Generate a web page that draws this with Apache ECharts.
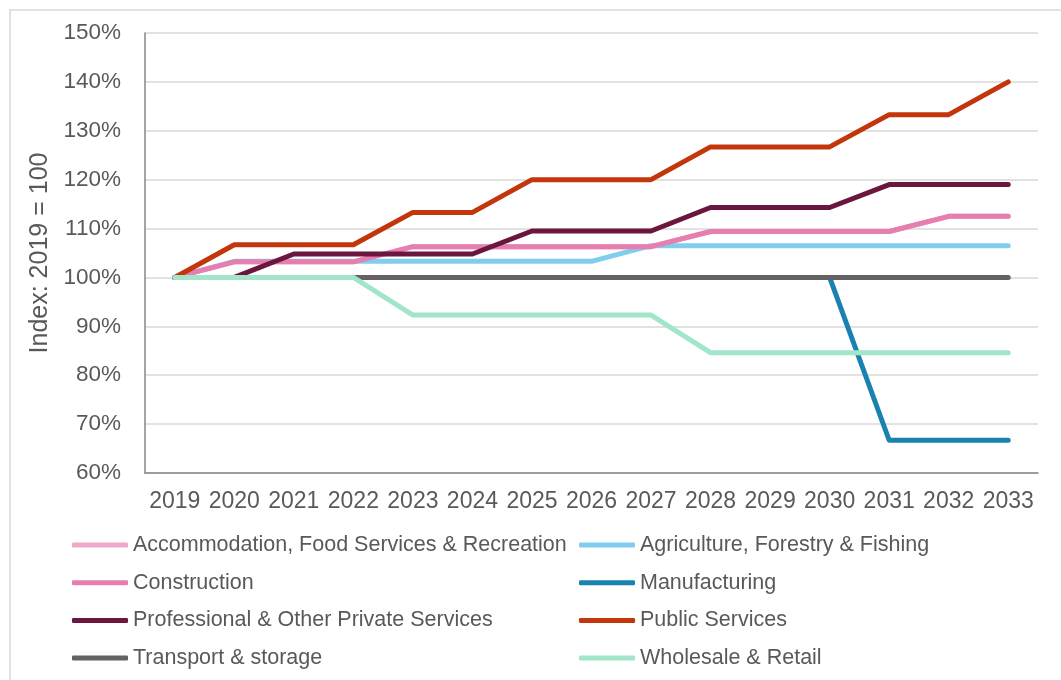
<!DOCTYPE html>
<html>
<head>
<meta charset="utf-8">
<title>Employment index by sector, 2019 = 100</title>
<script src="https://cdn.jsdelivr.net/npm/echarts@6/dist/echarts.min.js"></script>
<style>
  html, body { margin: 0; padding: 0; background: #ffffff; }
  #chart { width: 1061px; height: 680px; }
</style>
</head>
<body>
<div id="chart"></div>
<script>
// Years on the x axis
const years = ['2019', '2020', '2021', '2022', '2023', '2024', '2025', '2026',
               '2027', '2028', '2029', '2030', '2031', '2032', '2033'];

// Index values per sector (2019 = 100)
const accommodation = [100, 103.2, 103.2, 103.2, 106.3, 106.3, 106.3, 106.3, 106.3, 109.4, 109.4, 109.4, 109.4, 112.5, 112.5];
const agriculture   = [100, 103.3, 103.3, 103.3, 103.3, 103.3, 103.3, 103.3, 106.5, 106.5, 106.5, 106.5, 106.5, 106.5, 106.5];
const construction  = [100, 103.2, 103.2, 103.2, 106.3, 106.3, 106.3, 106.3, 106.3, 109.4, 109.4, 109.4, 109.4, 112.5, 112.5];
const manufacturing = [100, 100, 100, 100, 100, 100, 100, 100, 100, 100, 100, 100, 66.7, 66.7, 66.7];
const professional  = [100, 100, 104.8, 104.8, 104.8, 104.8, 109.5, 109.5, 109.5, 114.3, 114.3, 114.3, 119.0, 119.0, 119.0];
const publicServices = [100, 106.7, 106.7, 106.7, 113.3, 113.3, 120, 120, 120, 126.7, 126.7, 126.7, 133.3, 133.3, 140];
const transport     = [100, 100, 100, 100, 100, 100, 100, 100, 100, 100, 100, 100, 100, 100, 100];
const wholesale     = [100, 100, 100, 100, 92.3, 92.3, 92.3, 92.3, 92.3, 84.6, 84.6, 84.6, 84.6, 84.6, 84.6];

// Y axis tick range (percent)
const yMin = 60, yMax = 150, yStep = 10;

const sectors = [
  { name: 'Accommodation, Food Services & Recreation', data: accommodation, color: '#F0A9CA' },
  { name: 'Agriculture, Forestry & Fishing',           data: agriculture,   color: '#80CDEE' },
  { name: 'Construction',                              data: construction,  color: '#E67FAF' },
  { name: 'Manufacturing',                             data: manufacturing, color: '#1A82B0' },
  { name: 'Professional & Other Private Services',     data: professional,  color: '#6A163F' },
  { name: 'Public Services',                           data: publicServices, color: '#C3360C' },
  { name: 'Transport & storage',                       data: transport,     color: '#636363' },
  { name: 'Wholesale & Retail',                        data: wholesale,     color: '#A2E6CA' }
];

const font = 'Liberation Sans, Arial, sans-serif';
const textColor = '#595959';

const legendCommon = {
  orient: 'vertical',
  top: 534,
  padding: 0,
  itemWidth: 56,
  itemHeight: 5,
  itemGap: 15.7,
  icon: 'roundRect',
  selectedMode: false,
  textStyle: { fontFamily: font, fontSize: 21.5, color: textColor, lineHeight: 22 }
};

const chart = echarts.init(document.getElementById('chart'), null, { renderer: 'canvas' });

chart.setOption({
  animation: false,
  backgroundColor: '#ffffff',
  graphic: [{
    type: 'rect',
    shape: { x: 10, y: 10, width: 1070, height: 700 },
    style: { fill: 'none', stroke: '#D9D9D9', lineWidth: 1.5 },
    silent: true
  }],
  grid: { left: 145, right: 23, top: 33, bottom: 207, containLabel: false },
  legend: [
    Object.assign({}, legendCommon, {
      left: 72,
      data: [sectors[0].name, sectors[2].name, sectors[4].name, sectors[6].name]
    }),
    Object.assign({}, legendCommon, {
      left: 579,
      data: [sectors[1].name, sectors[3].name, sectors[5].name, sectors[7].name]
    })
  ],
  xAxis: {
    type: 'category',
    data: years,
    boundaryGap: true,
    axisLine: { show: true, lineStyle: { color: '#868686', width: 1.5 } },
    axisTick: { show: false },
    axisLabel: { fontFamily: font, fontSize: 23, color: textColor, margin: 17, interval: 0 },
    splitLine: { show: false }
  },
  yAxis: {
    type: 'value',
    min: yMin,
    max: yMax,
    interval: yStep,
    name: 'Index: 2019 = 100',
    nameLocation: 'middle',
    nameGap: 91,
    nameTextStyle: { fontFamily: font, fontSize: 25, color: textColor },
    axisLine: { show: true, lineStyle: { color: '#868686', width: 1.5 } },
    axisTick: { show: false },
    axisLabel: { fontFamily: font, fontSize: 22.5, color: textColor, margin: 24, formatter: v => v + '%' },
    splitLine: { show: true, lineStyle: { color: '#D9D9D9', width: 1.5 } }
  },
  series: sectors.map(s => ({
    name: s.name,
    type: 'line',
    data: s.data,
    showSymbol: false,
    symbol: 'none',
    color: s.color,
    lineStyle: { color: s.color, width: 5, cap: 'round', join: 'round' },
    emphasis: { disabled: true }
  }))
});
</script>
</body>
</html>
